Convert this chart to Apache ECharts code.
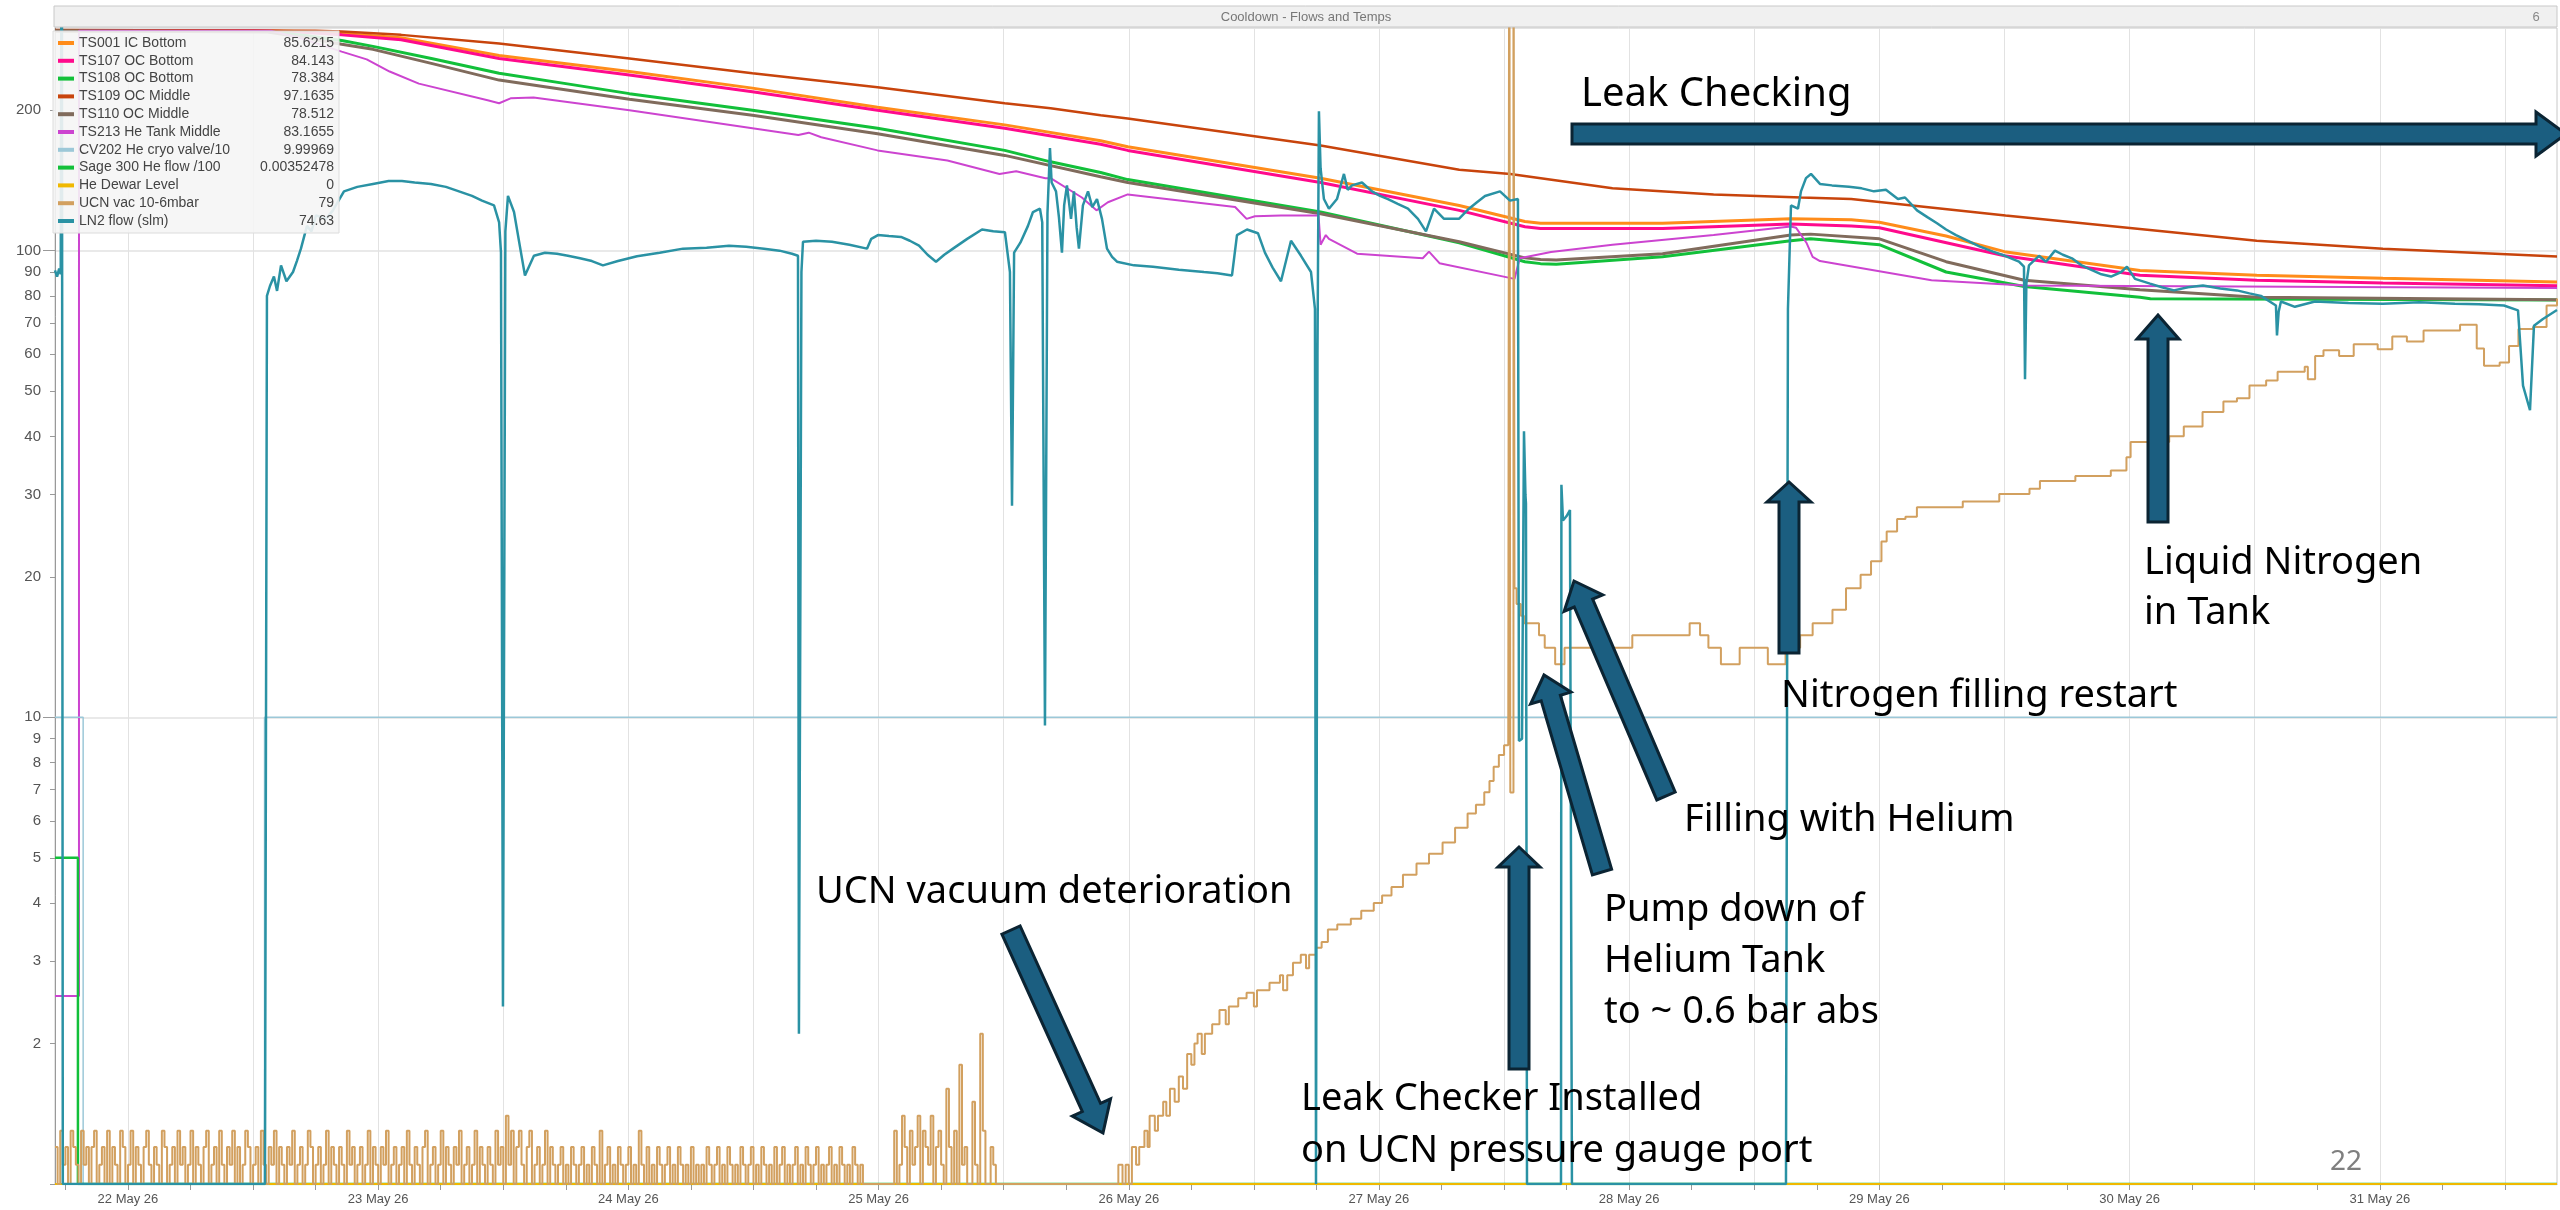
<!DOCTYPE html>
<html><head><meta charset="utf-8">
<script src="https://cdn.jsdelivr.net/npm/echarts@6/dist/echarts.min.js"></script>
<style>html,body{margin:0;padding:0;background:#fff;}#c{width:2560px;height:1210px;}</style>
</head><body><div id="c"></div>
<script>
// ---------- DATA (hours relative to 22 May 26 00:00, value) ----------
const TS001 = [[-7,296],[12,296],[16,295],[20.5,292],[26.2,286],[35.6,262],[48.1,242],[59.9,223],[71.9,203],[84.1,186],[93.3,172],[95.9,167],[114.4,143],[127.7,125],[134,115.5],[135.5,114.5],[147.2,114.5],[159.5,117],[165.3,116.5],[168,115],[174.4,107.5],[180,99.5],[193,90.7],[204.2,88.6],[216.3,87.3],[233,85.6215]];
const TS107 = [[-7,296],[12,296],[16,294.5],[20.5,290],[26.2,283],[35.6,258],[48.1,238],[59.9,219],[71.9,200],[84.1,183],[93.3,169],[95.9,164],[114.4,140],[127.7,122],[134,112.5],[135.5,111.5],[147.2,111.5],[159.5,114],[165.3,113],[168,112],[180,97.5],[193,88.6],[204.2,86.4],[216.3,85.3],[233,84.143]];
const TS108 = [[-7,296],[13.4,295],[17,289],[20.5,282],[23.5,274],[29.1,258],[35.6,240],[42,228],[48.1,217],[59.9,200],[71.9,183],[84.1,164],[88.5,155],[93.3,147],[95.9,142],[114.4,121],[127.7,104],[134,94.7],[135.5,93.8],[137,93.5],[147.2,97],[159.5,105],[161.4,106],[168,103],[174.4,90],[181.9,83.8],[193,79.5],[194,78.9],[233,78.384]];
const TS109 = [[-7,297],[18,296],[20.5,295],[26.2,290],[35.6,278],[48.1,258],[59.9,240],[71.9,224],[84.1,207],[88.5,202],[93.3,195],[95.9,192],[114.4,168],[127.7,149],[132.6,146],[142.4,136],[152.1,132],[160.5,130],[165.3,129],[180.1,119],[204.2,105],[216.3,101],[233,97.1635]];
const TS110 = [[-7,296],[13.4,294],[17,286],[20.5,277],[23.5,270],[29.1,252],[35.6,232],[48.1,211],[59.9,195],[71.9,178],[84.1,160],[93.3,144],[95.9,140],[114.4,120],[127.7,104.5],[134,96.5],[135.5,95.7],[137,95.5],[147.2,98.5],[159.5,108],[161.4,108.5],[168,106],[174.4,94.7],[181.9,86.4],[193,82.5],[204.2,79.5],[233,78.512]];
const TS213 = [[-7,2.53],[-4.7,2.53],[-4.7,296],[13.7,296],[16.6,285],[20.5,267],[22.9,257],[25.1,242],[27.9,228],[34.5,210],[35.6,207],[36.7,212],[38.9,213],[48.1,200],[59.9,183],[64.3,177],[65.3,179],[66.5,175],[71.9,164],[78.6,156],[83.6,146],[85.2,148],[88,143],[88.5,143],[91.5,130],[92.9,122],[94,127],[95.9,132],[106.2,124],[107.3,117],[108.1,118.5],[110.6,119],[114.2,119],[114.4,103],[114.9,108],[115.2,106],[117.9,98.5],[124.2,96.3],[124.8,99.5],[125.8,94],[133,87],[133.5,96.3],[136.5,99.3],[142.4,103],[152.1,108],[159.5,112.7],[160,112],[161,104],[161.6,97],[162.3,95],[173,86.4],[181.9,84.2],[233,83.1655]];
const CV202 = [[-7,9.99969],[-4.3,9.99969],[-4.3,0],[13.1,0],[13.1,9.99969],[233,9.99969]];
const SAGE300 = [[-7,5],[-4.8,5],[-4.8,0.00352478],[233,0.00352478]];
const HE_DEWAR = [[-7,0],[233,0]];
const UCN_NOISE_START = -7, UCN_NOISE_STEP = 0.25;
const UCN_NOISE = [
 1.2,1.0,1.3,1.1,1.2,1.0,1.3,1.2,1.1,1.0, 1.3,1.1,1.2,1.0,1.2,1.3,1.0,1.1,1.2,1.0,
 1.3,1.0,1.2,1.1,1.0,1.3,1.2,1.0,1.1,1.3, 1.0,1.2,1.1,1.0,1.2,1.3,1.1,1.0,1.2,1.1,
 1.0,1.3,1.2,1.0,1.1,1.2,1.0,1.3,1.1,1.2, 1.0,1.1,1.3,1.0,1.2,1.1,1.0,1.2,1.3,1.0,
 1.1,1.2,1.0,1.3,1.1,1.0,1.2,1.1,1.3,1.0, 1.2,1.0,1.1,1.3,1.2,1.0,1.1,1.2,1.0,1.3,
 1.1,1.0,1.2,1.1,1.3,1.0,1.2,1.1,1.0,1.2, 1.1,1.3,1.0,1.1,1.2,1.0,1.1,1.3,1.2,1.0,
 1.1,1.2,1.0,1.1,1.3,1.0,1.2,1.1,1.0,1.2, 1.1,1.0,1.3,1.1,1.2,1.0,1.1,1.2,1.0,1.1,
 1.3,1.0,1.2,1.1,1.0,1.2,1.1,1.3,1.0,1.1, 1.2,1.0,1.1,1.2,1.0,1.3,1.1,1.0,1.2,1.1,
 1.0,1.2,1.3,1.0,1.1,1.2,1.0,1.1,1.3,1.0, 1.2,1.1,1.0,1.2,1.1,1.3,1.0,1.1,1.2,1.0,
 1.1,1.3,1.0,1.2,1.1,1.0,1.2,1.1,1.0,1.3, 1.1,1.2,
 1.0,1.4,1.1,1.3,1.0,1.2,1.3,1.1,1.0,1.2, 1.3,1.0,1.1,1.2,1.0,1.1,1.3,1.0,1.2,1.1,
 1.0,1.1,1.2,1.0,1.1,1.0,1.2,1.1,1.0,1.1, 1.2,1.0,1.1,1.0,1.2,1.1,1.0,1.3,1.0,1.1,
 1.2,1.0,1.1,1.0,1.2,1.1,1.0,1.1,1.2,1.0, 1.1,1.0,1.3,1.1,1.0,1.2,1.0,1.1,1.0,1.2,
 1.1,1.0,1.1,1.2,1.0,1.1,1.0,1.2,1.1,1.0, 1.1,1.0,1.2,1.0,1.1,1.0,
 1.1,1.0,1.2,1.1,1.0,1.1,1.2,1.0,1.1,1.0, 1.2,1.1,1.0,1.1,1.0,1.2,1.1,1.0,1.1,1.2,
 1.0,1.1,1.0,1.2,1.1,1.0,1.1,1.0,1.2,1.0, 1.1,1.2,1.0,1.1,1.0,1.1,1.2,1.0,1.1,1.0,
 1.2,1.1,1.0,1.1,1.2,1.0,1.1,1.0,1.1,1.2, 1.0,1.1,1.0,1.2,1.1,1.0,1.1,1.0,1.2,1.1,
 1.0,1.1,1.0,1.0,
 1.0,1.0,1.0,1.0,1.0,1.0,1.0,1.0,1.0,1.0,
 1.3,1.0,1.1,1.4,1.2,1.0,1.3,1.1,1.2,1.4, 1.0,1.3,1.2,1.1,1.4,1.0,1.2,1.3,
 1.1,1.0,1.6,1.2,1.0,1.3,1.0,1.8,1.1,1.2, 1.0,1.0,1.5,1.1,1.0,2.1,1.3,1.0,1.0,1.2, 1.1,1.0,1.0,1.0];
const UCN_STEPS = [[84,0],[95.0,1.1],[95.4,1.0],[95.7,1.1],[96.0,1.0],[96.3,1.2],[96.7,1.1],[97.0,1.2],[97.5,1.3],[97.8,1.2],[98.0,1.4],[98.5,1.3],[98.8,1.4],[99.3,1.5],[99.6,1.4],[99.95,1.6],[100.4,1.5],[100.8,1.7],[101.2,1.6],[101.6,1.9],[102.0,1.8],[102.3,2.0],[102.6,2.1],[103.0,1.9],[103.3,2.1],[104.0,2.2],[104.7,2.36],[105.3,2.2],[105.6,2.4],[106.5,2.5],[107.3,2.57],[108.0,2.4],[108.3,2.6],[109.5,2.7],[110.5,2.8],[110.8,2.6],[111.2,2.8],[111.75,2.98],[112.5,3.1],[113.0,2.9],[113.3,3.1],[113.96,3.21],[114.5,3.3],[115.1,3.51],[116.0,3.6],[117.3,3.7],[118.3,3.85],[119.5,4.0],[120.3,4.15],[121.2,4.33],[122.3,4.6],[123.6,4.86],[124.8,5.1],[126.1,5.39],[127.3,5.8],[128.5,6.22],[129.3,6.5],[130.1,6.91],[130.6,7.3],[131.0,7.84],[131.5,8.3],[132.0,8.71],[132.4,8.97],[132.5,1000],[132.6,6.9],[132.9,1000],[133.0,18.9],[133.2,17.5],[133.6,16.5],[133.9,15.9],[135.35,15.0],[135.9,14.1],[136.9,13.0],[137.8,14.1],[144.3,15.0],[149.8,15.9],[150.8,15.0],[151.6,14.1],[152.8,13.0],[154.6,14.1],[157.3,13.0],[159.0,14.1],[160.4,15.0],[161.6,15.9],[163.5,17.0],[164.8,18.9],[166.2,20.2],[167.2,21.6],[168.2,23.8],[168.7,25.0],[169.7,26.6],[170.5,26.9],[171.6,28.2],[176.0,29.0],[179.5,30.1],[182.4,30.9],[183.4,32.1],[186.8,32.9],[190.2,33.8],[191.7,36.1],[192.1,38.9],[195.8,40.0],[197.2,42.0],[199.0,45.1],[201.0,47.5],[202.3,48.3],[203.5,51.4],[205.1,52.7],[206.2,55.0],[208.8,56.4],[209.1,53],[209.8,59.5],[210.6,61.2],[212.1,59.5],[213.5,63.0],[215.8,61.5],[217.2,65.5],[218.6,63.9],[220.2,67.4],[223.7,69.4],[225.3,61.7],[226.0,56.7],[227.5,57.6],[228.4,62.5],[229.3,67.9],[230.7,68.6],[232.0,76.3],[233,79]];
const LN2 = [[-7,90.7],[-6.8,88],[-6.6,91.5],[-6.45,89],[-6.35,1000],[-6.25,0],[13.14,0],[13.33,80],[13.62,84],[14.0,88],[14.3,82],[14.68,93],[15.2,86],[15.83,90],[16.2,95],[16.59,101],[17.17,113],[17.6,110],[18.03,119],[19.0,117],[19.66,122],[20.2,128],[20.72,134],[22.0,137],[23.5,139],[25.0,141],[26.28,141],[27.5,140],[29.06,139],[30.5,137],[31.75,134],[33.0,131],[33.96,128],[35.11,125],[35.6,115],[35.78,99],[35.97,2.4],[36.2,110],[36.45,131],[37.03,121],[37.6,102],[38.08,88.5],[38.94,97.5],[40,99],[41.15,98.5],[42.2,97.5],[43.36,96.3],[44.5,95],[45.56,93],[47,95],[48.83,97.3],[51,99],[53.24,101],[55.5,101.5],[57.65,102.5],[59.3,102],[61.01,101],[62.5,100],[63.69,98.5],[64.27,97.5],[64.36,2.1],[64.6,90],[64.75,104.5],[66,105],[67.53,104.5],[69.2,103],[70.89,101],[71.3,106],[71.94,108],[73,107.5],[74.15,107],[75.0,105],[75.88,102.5],[76.7,98],[77.51,94.7],[78.3,98],[79.14,101],[80.5,106],[81.92,111],[83,110],[84.12,109.5],[84.6,90],[84.8,28.4],[85.0,99],[85.6,104],[86.33,113],[86.81,121],[87.48,123],[87.7,115],[87.96,9.6],[88.2,120],[88.44,166],[88.6,140],[89.02,134],[89.3,118],[89.59,99],[89.8,125],[90.07,138],[90.46,117],[90.74,134],[91.0,112],[91.22,101],[91.6,125],[92.09,134],[92.5,124],[92.95,129],[93.43,117],[93.91,101],[94.4,97],[94.87,94.7],[96.5,93],[98.32,92.4],[100.8,91],[103.21,90],[104.5,89.5],[105.9,88.5],[106.38,108],[107.34,111],[108.39,109],[109.06,99],[109.8,92],[110.6,86],[111.56,105],[112.52,97.5],[113.48,90],[113.86,75],[113.96,0],[114.1,60],[114.24,199],[114.4,150],[114.72,129],[115.2,123],[115.97,129],[116.64,146],[117.0,135],[117.41,138],[118.37,140],[119.33,134],[120.1,131],[120.86,129],[121.8,126],[122.78,123],[123.74,117],[124.51,110],[125.28,123],[126.24,117],[127.67,117],[128.63,123],[129.4,127],[130.17,131],[131.61,134],[132.57,128],[133.33,129],[133.43,8.9],[133.72,9],[133.91,41],[134.05,30],[134.1,28.7],[134.2,0],[137.46,0],[137.5,31.5],[137.65,26.4],[138.0,27],[138.32,27.8],[138.51,0],[159.04,0],[159.23,75],[159.52,125],[160.19,123],[160.48,134],[160.96,143],[161.44,146],[162.3,139],[163.45,138],[165.08,137],[166.3,136],[167.48,134],[168.63,135],[169.78,129],[170.46,130],[171.61,122],[172.6,118],[173.53,114.5],[174.4,111],[175.35,108],[176.5,105],[177.65,102],[178.9,99.5],[180.05,97.5],[181.39,94.7],[181.87,92.4],[181.97,53],[182.1,85],[182.35,93],[183.31,97.5],[183.98,94.7],[184.84,100],[185.6,98],[186.47,96.3],[187.4,93],[188.39,90.8],[189.3,89],[190.22,88],[191.2,90],[191.75,92.4],[192.52,87],[193.96,85],[195.1,83.5],[196.26,82.2],[197.6,83.5],[199.04,84.2],[200.7,83],[202.3,82.2],[203.5,81],[204.6,80],[206.04,76.3],[206.14,65.8],[206.3,74],[206.52,77.8],[207.86,75.8],[209.78,77.8],[213,77.2],[216.31,77],[219.8,77.5],[223.21,77],[225.5,76.8],[227.91,76.3],[229.26,74.5],[229.74,51.4],[230.41,45.5],[230.79,69],[231.65,71.4],[233,74.63]];

const SERIES_NAMES = ['TS001 IC Bottom','TS107 OC Bottom','TS108 OC Bottom','TS109 OC Middle','TS110 OC Middle','TS213 He Tank Middle','CV202 He cryo valve/10','Sage 300 He flow /100','He Dewar Level','UCN vac 10-6mbar','LN2 flow (slm)'];
const X_LABEL_DAYS = [22,23,24,25,26,27,28,29,30,31];
const Y_LABELS = [2,3,4,5,6,7,8,9,10,20,30,40,50,60,70,80,90,100,200];
const Y_MINOR_TICKS = [1,2,3,4,5,6,7,8,9,20,30,40,50,60,70,80,90,200];
const Y_MAJOR_TICKS = [10,100];
const Y_MIN = 1, Y_MAX = 300;
const X_MIN_H = -7, X_MAX_H = 233;

// ---------- BUILD ----------
const H = 3600000;
const BASE = new Date(2026,4,22,0,0,0).getTime();
const t = h => BASE + h*H;
const MONTHS = ['Jan','Feb','Mar','Apr','May','Jun','Jul','Aug','Sep','Oct','Nov','Dec'];
const lg = Math.log10;

const tick6 = []; for (let h = -6; h <= X_MAX_H; h += 6) tick6.push(t(h));
const tick12 = []; for (let h = 0; h <= X_MAX_H; h += 12) tick12.push(t(h));
const labelTimes = X_LABEL_DAYS.map(d => t((d-22)*24));

function mk(name, raw, color, width, extra) {
  return Object.assign({
    name, type:'line', xAxisIndex:0, yAxisIndex:0,
    data: raw.map(([h,v]) => [t(h), Math.max(v, Y_MIN)]),
    showSymbol:false, symbol:'none', silent:true, animation:false,
    lineStyle:{width, color}, itemStyle:{color}, clip:true
  }, extra || {});
}
const rawByName = {};
const UCN = UCN_NOISE.map((v,i) => [UCN_NOISE_START + i*UCN_NOISE_STEP, v]).concat(UCN_STEPS);
const defs = [
  [TS001,'#FF8C1A',3],[TS107,'#FF0A8C',3],[TS108,'#12C03A',3],[TS109,'#C8440C',2.5],
  [TS110,'#806B5C',3],[TS213,'#CC44D0',2],[CV202,'#9CC8D8',1.5],[SAGE300,'#12C03A',2.5],
  [HE_DEWAR,'#F0B800',2],[UCN,'#D2A05F',2],[LN2,'#2A92A4',2.5]
];
const series = defs.map((d,i) => {
  rawByName[SERIES_NAMES[i]] = d[0];
  return mk(SERIES_NAMES[i], d[0], d[1], d[2], i === 9 ? {step:'end'} : {});
});

function arrow(x1,y1,x2,y2,sw,hw,hl){
  const dx=x2-x1, dy=y2-y1, L=Math.hypot(dx,dy), ux=dx/L, uy=dy/L, px=-uy, py=ux;
  const bx=x2-ux*hl, by=y2-uy*hl;
  const pts=[[x1+px*sw/2,y1+py*sw/2],[bx+px*sw/2,by+py*sw/2],[bx+px*hw/2,by+py*hw/2],[x2,y2],
    [bx-px*hw/2,by-py*hw/2],[bx-px*sw/2,by-py*sw/2],[x1-px*sw/2,y1-py*sw/2]];
  return {type:'polygon', z:100, silent:true, shape:{points:pts}, style:{fill:'#1B5E80', stroke:'#0B2433', lineWidth:3}};
}
const FONT = '"Noto Sans", "Open Sans", sans-serif';
function txt(s,x,baseline,size){
  return {type:'text', z:100, silent:true, x, y: baseline - 0.36*size,
    style:{text:s, font: size+'px '+FONT, fill:'#000', verticalAlign:'middle', align:'left'}};
}
const fmtDate = v => { const d=new Date(v); return d.getDate()+' '+MONTHS[d.getMonth()]+' '+String(d.getFullYear()).slice(2); };

const chart = echarts.init(document.getElementById('c'), null, {renderer:'canvas'});
chart.setOption({
  animation:false,
  backgroundColor:'#fff',
  grid:{left:55, right:3, top:28, bottom:26, show:true, borderColor:'#c8c8c8', borderWidth:1},
  xAxis:[{
    type:'value', min:t(X_MIN_H), max:t(X_MAX_H), scale:true,
    axisLine:{lineStyle:{color:'#999'}},
    axisTick:{customValues:tick6, length:6, lineStyle:{color:'#999'}},
    axisLabel:{customValues:labelTimes, margin:9, fontSize:13, color:'#555', fontFamily:'Liberation Sans', formatter: fmtDate},
    splitLine:{show:false}
  },{
    type:'value', min:t(X_MIN_H), max:t(X_MAX_H), scale:true,
    axisLine:{show:false}, axisLabel:{show:false},
    axisTick:{show:false, customValues:tick12},
    splitLine:{show:true, lineStyle:{color:'#e2e2e2', width:1}}
  }],
  yAxis:[{
    type:'log', logBase:10, min:Y_MIN, max:Y_MAX, show:false
  },{
    type:'value', min:0, max:lg(Y_MAX), position:'left',
    axisLine:{show:true, lineStyle:{color:'#999'}},
    axisTick:{show:true, customValues:Y_MINOR_TICKS.map(lg), length:5, lineStyle:{color:'#999'}},
    axisLabel:{customValues:Y_LABELS.map(lg), margin:14, fontSize:15, color:'#555', fontFamily:'Liberation Sans',
      formatter: v => String(Math.round(Math.pow(10,v)))},
    splitLine:{show:false}
  },{
    type:'value', min:0, max:lg(Y_MAX), position:'left',
    axisLine:{show:false}, axisLabel:{show:false},
    axisTick:{show:true, customValues:Y_MAJOR_TICKS.map(lg), length:12, lineStyle:{color:'#999'}},
    splitLine:{show:true, lineStyle:{color:'#e2e2e2', width:1.5}}
  }],
  legend:{
    show:true, orient:'vertical', left:53, top:31, selectedMode:false,
    backgroundColor:'rgba(245,245,245,0.9)', borderColor:'#dcdcdc', borderWidth:1,
    padding:[5,5,5,5], itemGap:3.8, itemWidth:16, itemHeight:4, icon:'rect',
    data:SERIES_NAMES,
    formatter: name => { const r=rawByName[name]; return '{n|'+name+'}{v|'+r[r.length-1][1]+'}'; },
    textStyle:{fontFamily:'Liberation Sans', fontSize:14, color:'#444',
      rich:{n:{width:150, fontSize:14, color:'#444', fontFamily:'Liberation Sans', lineHeight:14},
            v:{width:105, align:'right', fontSize:14, color:'#444', fontFamily:'Liberation Sans', lineHeight:14}}}
  },
  series,
  graphic:[
    {type:'rect', z:50, silent:true, shape:{x:54, y:6, width:2503, height:21}, style:{fill:'#f0f0f0', stroke:'#c8c8c8', lineWidth:1}},
    {type:'text', z:51, silent:true, x:1306, y:17, style:{text:'Cooldown - Flows and Temps', font:'13px "Liberation Sans"', fill:'#777', align:'center', verticalAlign:'middle'}},
    {type:'text', z:51, silent:true, x:2536, y:17, style:{text:'6', font:'13px "Liberation Sans"', fill:'#888', align:'center', verticalAlign:'middle'}},
    arrow(1572,134,2566,134,20,44,30),
    arrow(2158,522,2158,315,20,42,24),
    arrow(1789,653,1789,482,20,44,20),
    arrow(1666,796,1574,581,20,42,24),
    arrow(1602,872,1544,675,20,42,24),
    arrow(1519,1069,1519,847,20,42,20),
    arrow(1011,930,1103,1133,20,42,28),
    txt('Leak Checking',1581,109,40),
    txt('Liquid Nitrogen',2144,577,38),
    txt('in Tank',2144,627,38),
    txt('Nitrogen filling restart',1781,710,38),
    txt('Filling with Helium',1684,834,38),
    txt('Pump down of',1604,924,38),
    txt('Helium Tank',1604,975,38),
    txt('to ~ 0.6 bar abs',1604,1026,38),
    txt('Leak Checker Installed',1301,1113,38),
    txt('on UCN pressure gauge port',1301,1165,38),
    txt('UCN vacuum deterioration',816,906,38),
    {type:'text', z:100, silent:true, x:2330, y:1162, style:{text:'22', font:'28px '+FONT, fill:'#7f7f7f', verticalAlign:'middle'}}
  ]
});
</script></body></html>
